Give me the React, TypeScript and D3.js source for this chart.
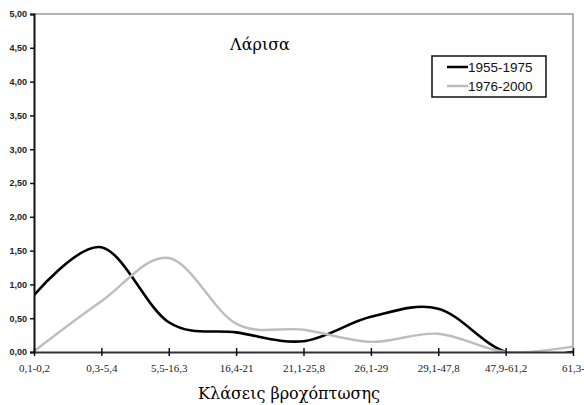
import React, { useEffect, useRef } from "react";
import * as d3 from "d3";

const categories = [
  "0,1-0,2",
  "0,3-5,4",
  "5,5-16,3",
  "16,4-21",
  "21,1-25,8",
  "26,1-29",
  "29,1-47,8",
  "47,9-61,2",
  "61,3-",
];
const series1955 = [0.84, 1.55, 0.44, 0.29, 0.16, 0.52, 0.64, 0.0, 0.0];
const series1976 = [0.01, 0.75, 1.39, 0.42, 0.33, 0.15, 0.27, 0.0, 0.08];
const yTicks = [0, 0.5, 1, 1.5, 2, 2.5, 3, 3.5, 4, 4.5, 5];
const seriesNames = ["1955-1975", "1976-2000"];

const Chart: React.FC = () => {
  const svgRef = useRef<SVGSVGElement>(null);

  useEffect(() => {
    const width = 584;
    const height = 405;
    const left = 34;
    const right = 573;
    const top = 14;
    const bottom = 352;

    const svg = d3.select(svgRef.current).attr("width", width).attr("height", height);
    svg.selectAll("*").remove();

    const x = d3
      .scalePoint<string>()
      .domain(categories)
      .range([left, right]);
    const y = d3.scaleLinear().domain([0, 5]).range([bottom, top]);

    const fmt = (v: number) => v.toFixed(2).replace(".", ",");

    // plot frame (top and right in grey)
    svg
      .append("path")
      .attr("d", `M${left},${top}H${right}V${bottom}`)
      .attr("fill", "none")
      .attr("stroke", "#9a9a9a")
      .attr("stroke-width", 1.5);

    svg
      .append("defs")
      .append("clipPath")
      .attr("id", "plot-clip")
      .append("rect")
      .attr("x", left)
      .attr("y", top)
      .attr("width", right - left)
      .attr("height", bottom - top);

    const line = d3
      .line<number>()
      .x((d, i) => x(categories[i]) as number)
      .y(d => y(d))
      .curve(d3.curveCardinal.tension(0));

    const plot = svg.append("g").attr("clip-path", "url(#plot-clip)");
    plot
      .append("path")
      .datum(series1955)
      .attr("d", line)
      .attr("fill", "none")
      .attr("stroke", "#000")
      .attr("stroke-width", 2.6);
    plot
      .append("path")
      .datum(series1976)
      .attr("d", line)
      .attr("fill", "none")
      .attr("stroke", "#bdbdbd")
      .attr("stroke-width", 2.4);

    // y axis
    const yAxis = svg
      .append("g")
      .attr("transform", `translate(${left},0)`)
      .call(
        d3
          .axisLeft(y)
          .tickValues(yTicks)
          .tickSize(4)
          .tickPadding(3)
          .tickFormat(d => fmt(d as number))
      );
    yAxis.select(".domain").attr("stroke", "#111").attr("stroke-width", 2);
    yAxis.selectAll(".tick line").attr("stroke", "#111").attr("stroke-width", 1.5);
    yAxis
      .selectAll(".tick text")
      .attr("font-family", "Arial, 'Liberation Sans', sans-serif")
      .attr("font-size", 9)
      .attr("font-weight", "bold")
      .attr("fill", "#222");

    // x axis
    const xAxis = svg
      .append("g")
      .attr("transform", `translate(0,${bottom})`)
      .call(d3.axisBottom(x).tickSize(4).tickPadding(8).tickSizeOuter(0));
    xAxis.select(".domain").attr("stroke", "#333").attr("stroke-width", 2);
    xAxis
      .selectAll(".tick line")
      .attr("y1", -4)
      .attr("y2", 4)
      .attr("stroke", "#111")
      .attr("stroke-width", 1.5);
    xAxis
      .selectAll(".tick text")
      .attr("font-family", "'Liberation Serif', 'Times New Roman', serif")
      .attr("font-size", 11)
      .attr("fill", "#222");

    // titles
    svg
      .append("text")
      .attr("x", 260)
      .attr("y", 50)
      .attr("text-anchor", "middle")
      .attr("font-family", "'DejaVu Serif', serif")
      .attr("font-size", 16)
      .text("Λάρισα");

    svg
      .append("text")
      .attr("x", 289)
      .attr("y", 399)
      .attr("text-anchor", "middle")
      .attr("font-family", "'DejaVu Serif', serif")
      .attr("font-size", 16)
      .text("Κλάσεις βροχόπτωσης");

    // legend
    const legend = svg.append("g").attr("transform", "translate(432,56)");
    legend
      .append("rect")
      .attr("width", 114)
      .attr("height", 41)
      .attr("fill", "#fff")
      .attr("stroke", "#111")
      .attr("stroke-width", 1.5);
    const colors = ["#000", "#bdbdbd"];
    const items = legend
      .selectAll("g.item")
      .data(seriesNames)
      .enter()
      .append("g")
      .attr("class", "item")
      .attr("transform", (d, i) => `translate(0,${11 + i * 19})`);
    items
      .append("line")
      .attr("x1", 15)
      .attr("x2", 36)
      .attr("stroke", (d, i) => colors[i])
      .attr("stroke-width", 2.5);
    items
      .append("text")
      .attr("x", 36)
      .attr("y", 5)
      .attr("font-family", "Arial, 'Liberation Sans', sans-serif")
      .attr("font-size", 13.5)
      .attr("fill", "#111")
      .text(d => d);
  }, []);

  return (
    <div style={{ position: "absolute", left: 0, top: 0 }}>
      <svg ref={svgRef}></svg>
    </div>
  );
};

export default function App() {
  return <Chart />;
}
